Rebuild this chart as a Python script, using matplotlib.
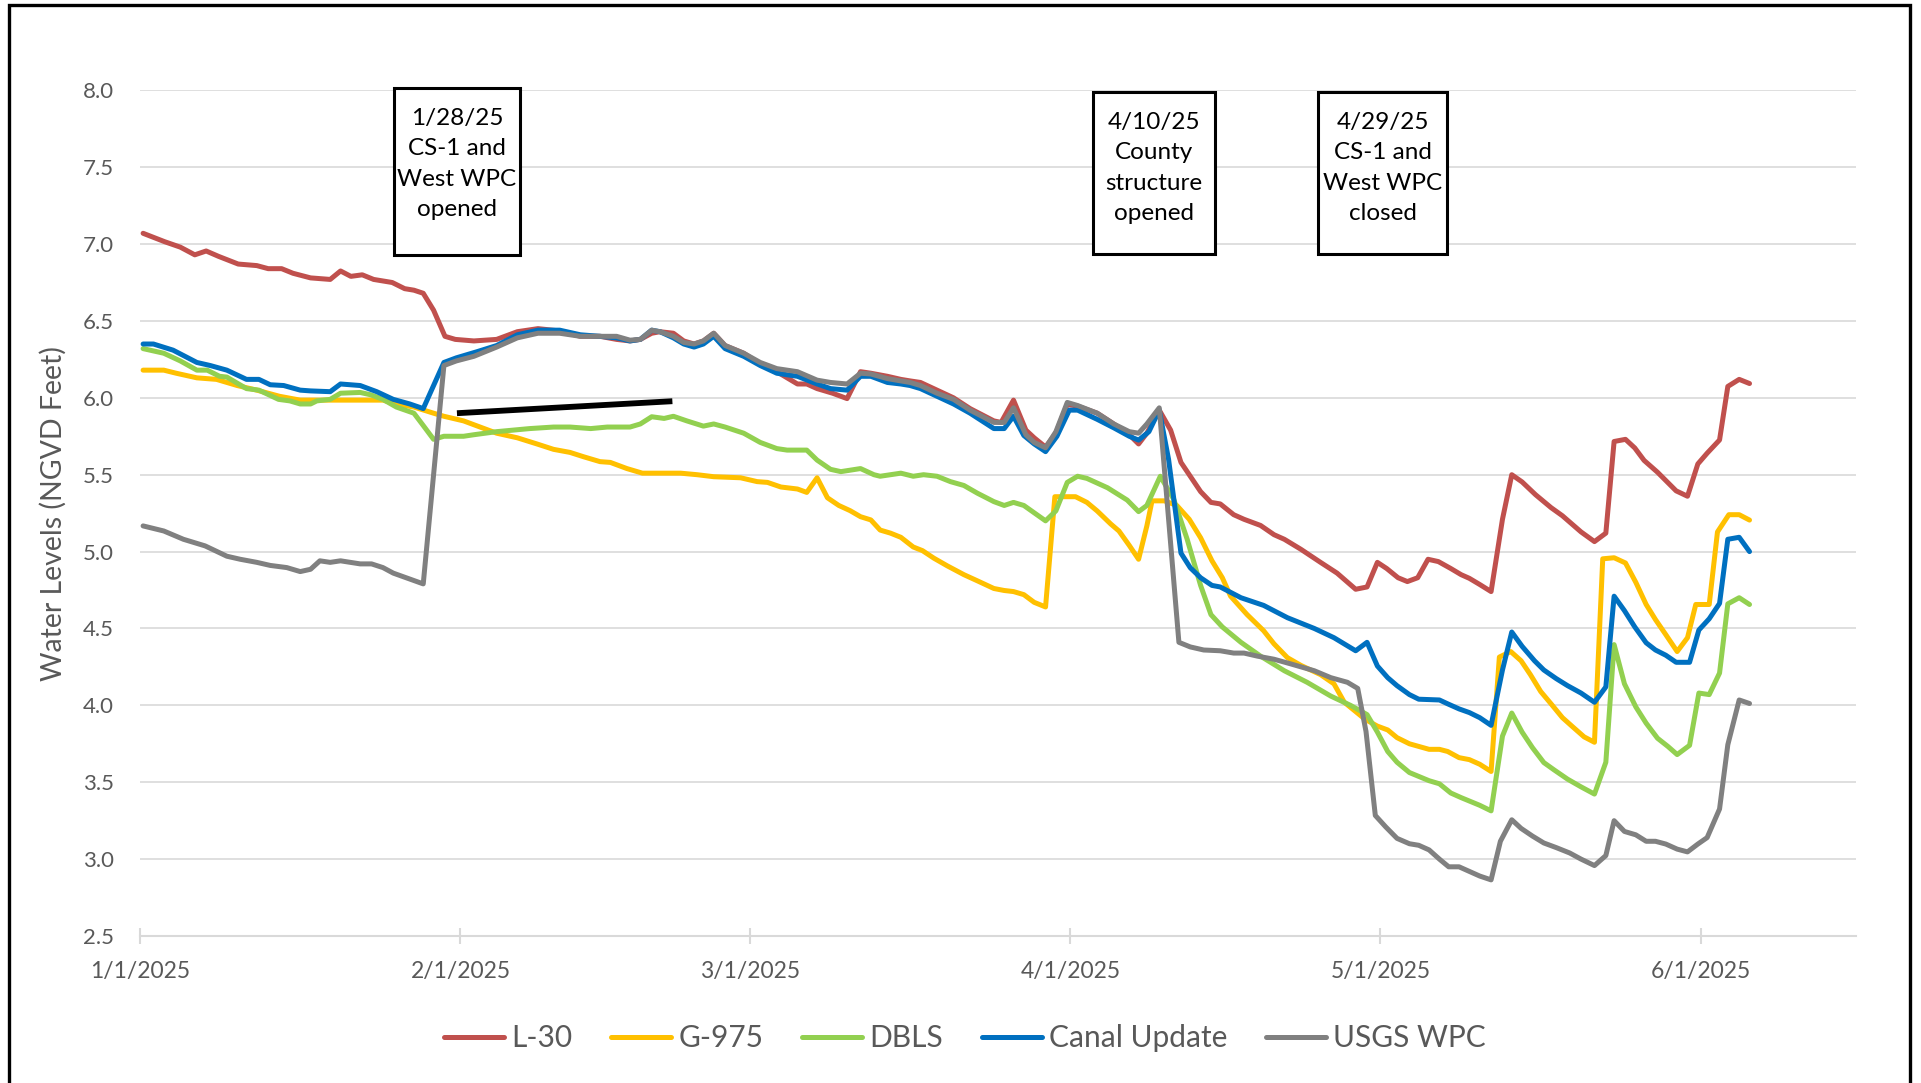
import numpy as np
import matplotlib
matplotlib.use("Agg")
import matplotlib.pyplot as plt
import matplotlib.dates as mdates
from matplotlib.patches import Rectangle
from datetime import datetime

plt.rcParams['font.family'] = ['Lato', 'DejaVu Sans']

# day offsets are counted from 1/1/2025
l30_day = [0.3, 2.4, 3.9, 5.3, 6.4, 7.6, 9.5, 11.3, 12.4, 13.7, 14.8, 16.5, 18.4, 19.4, 20.4, 21.5, 22.6, 24.4, 25.6, 26.5,
           27.4, 28.4, 29.5, 30.5, 32.3, 34.5, 36.5, 38.5, 40.6, 42.6, 44.5, 46.1, 47.4, 48.4, 49.5, 50.3, 51.6, 52.6, 53.6,
           54.5, 55.5, 56.6, 58.4, 60.0, 61.6, 63.6, 64.5, 65.5, 67.0, 68.4, 69.7, 70.7, 72.3, 73.6, 74.5, 75.5, 77.1, 78.7,
           80.3, 82.6, 83.3, 84.5, 85.7, 86.5, 87.6, 88.6, 89.7, 90.7, 92.6, 94.2, 95.7, 96.6, 97.4, 98.6, 99.7, 100.7, 101.6,
           102.6, 103.6, 104.5, 105.8, 106.8, 108.4, 109.7, 110.7, 112.3, 114.2, 115.8, 117.6, 118.7, 119.7, 120.6, 121.7,
           122.6, 123.6, 124.6, 125.6, 126.8, 127.8, 128.6, 129.6, 130.7, 131.8, 132.7, 133.7, 135.0, 136.5, 137.6, 139.4,
           140.7, 141.8, 142.6, 143.7, 144.6, 145.5, 146.8, 148.6, 149.7, 150.7, 151.6, 152.8, 153.6, 154.7, 155.7]
l30 = [7.07, 7.015, 6.98, 6.93, 6.955, 6.92, 6.87, 6.86, 6.84, 6.84, 6.81, 6.78, 6.77, 6.825, 6.79, 6.80, 6.77, 6.75, 6.71, 6.70,
       6.68, 6.57, 6.40, 6.38, 6.37, 6.38, 6.43, 6.45, 6.435, 6.40, 6.40, 6.38, 6.37, 6.38, 6.42, 6.43, 6.42, 6.37, 6.35,
       6.37, 6.42, 6.34, 6.29, 6.22, 6.17, 6.09, 6.09, 6.06, 6.03, 5.995, 6.17, 6.16, 6.14, 6.12, 6.11, 6.10, 6.05, 6.00,
       5.93, 5.85, 5.84, 5.985, 5.79, 5.74, 5.68, 5.77, 5.957, 5.946, 5.90, 5.83, 5.76, 5.70, 5.77, 5.92, 5.79, 5.58, 5.49,
       5.39, 5.32, 5.31, 5.24, 5.21, 5.17, 5.11, 5.08, 5.015, 4.93, 4.86, 4.755, 4.77, 4.93, 4.89, 4.83,
       4.805, 4.83, 4.95, 4.935, 4.89, 4.85, 4.826, 4.786, 4.74, 5.21, 5.50, 5.453, 5.37, 5.286, 5.233, 5.128,
       5.065, 5.12, 5.716, 5.73, 5.674, 5.593, 5.516, 5.395, 5.36, 5.57, 5.64, 5.726, 6.074, 6.12, 6.093]

g975_day = [0.3, 2.3, 3.5, 5.5, 7.4, 9.4, 11.3, 13.5, 15.5, 23.5, 24.8, 26.5, 28.4, 29.4, 31.3, 34.5, 36.5, 38.4, 40.0, 41.6,
            42.9, 44.5, 45.5, 47.1, 48.6, 52.3, 53.9, 55.5, 58.1, 59.7, 60.7, 62.0, 63.6, 64.5, 65.5, 66.5, 67.6, 68.7, 69.7,
            70.7, 71.6, 72.6, 73.6, 74.8, 75.7, 76.8, 78.1, 79.7, 81.0, 82.6, 83.6, 84.5, 85.5, 86.5, 87.6, 88.5, 90.5, 91.6,
            92.6, 93.9, 94.7, 95.7, 96.6, 97.4, 97.9, 99.1, 100.3, 101.5, 102.6, 103.7, 104.7, 105.5, 107.1, 108.7, 109.7,
            111.0, 112.3, 114.2, 115.5, 116.5, 118.5, 119.7, 120.7, 121.6, 122.8, 124.7, 125.7, 126.5, 127.6, 128.6, 129.6,
            130.7, 131.5, 132.6, 133.6, 134.5, 135.5, 136.5, 137.6, 138.6, 139.7, 140.7, 141.5, 142.6, 143.7, 144.7, 145.7,
            146.6, 147.6, 148.7, 149.7, 150.5, 151.8, 152.6, 153.7, 154.7, 155.7]
g975 = [6.18, 6.18, 6.16, 6.13, 6.12, 6.08, 6.05, 6.01, 5.985, 5.985, 5.96, 5.94, 5.90, 5.88, 5.85, 5.77, 5.74, 5.70, 5.665, 5.645,
        5.617, 5.585, 5.58, 5.54, 5.51, 5.51, 5.50, 5.487, 5.48, 5.455, 5.45, 5.42, 5.407, 5.385, 5.48, 5.35, 5.30, 5.266, 5.227,
        5.206, 5.14, 5.12, 5.093, 5.03, 5.006, 4.957, 4.907, 4.85, 4.81, 4.76, 4.747, 4.74, 4.72, 4.67, 4.64, 5.357, 5.357, 5.32,
        5.264, 5.18, 5.134, 5.04, 4.95, 5.167, 5.33, 5.33, 5.30, 5.21, 5.09, 4.94, 4.83, 4.71, 4.59, 4.485, 4.40,
        4.31, 4.26, 4.20, 4.14, 4.02, 3.91, 3.865, 3.84, 3.79, 3.75, 3.714, 3.714, 3.70, 3.66, 3.647, 3.617,
        3.57, 4.314, 4.35, 4.29, 4.20, 4.09, 4.01, 3.92, 3.86, 3.795, 3.76, 4.953, 4.96, 4.926, 4.80, 4.656,
        4.558, 4.46, 4.35, 4.44, 4.656, 4.656, 5.128, 5.24, 5.24, 5.205]

dbls_day = [0.3, 2.3, 3.9, 5.5, 6.5, 7.7, 8.4, 10.3, 11.5, 13.4, 14.5, 15.5, 16.5, 17.1, 18.4, 19.4, 21.3, 22.3, 23.5, 24.8,
            26.5, 27.4, 28.4, 29.4, 31.3, 32.3, 34.5, 37.7, 40.0, 41.6, 43.6, 45.2, 47.4, 48.4, 49.5, 50.7, 51.6, 52.9, 54.5,
            55.5, 56.6, 58.4, 60.0, 61.6, 62.6, 64.5, 65.5, 66.8, 67.8, 69.7, 71.0, 71.6, 73.6, 74.8, 75.8, 77.1, 78.4, 79.7,
            81.0, 82.6, 83.6, 84.5, 85.5, 87.6, 88.6, 89.7, 90.7, 91.6, 93.6, 95.5, 96.6, 97.4, 98.7, 100.0, 101.3, 102.6,
            103.6, 104.7, 106.5, 108.4, 110.7, 112.9, 115.2, 117.1, 118.7, 119.7, 120.7, 121.6, 122.8, 124.7, 125.7, 126.8,
            127.8, 129.6, 130.7, 131.8, 132.7, 133.7, 134.7, 135.8, 136.8, 138.1, 139.4, 140.7, 141.8, 142.6, 143.6, 144.7,
            145.7, 146.8, 147.8, 148.7, 149.9, 150.8, 151.8, 152.8, 153.6, 154.7, 155.7]
dbls = [6.32, 6.29, 6.24, 6.18, 6.18, 6.14, 6.135, 6.06, 6.05, 5.99, 5.98, 5.96, 5.96, 5.98, 5.99, 6.03, 6.035, 6.02, 5.99, 5.94,
        5.90, 5.82, 5.73, 5.75, 5.75, 5.76, 5.78, 5.80, 5.81, 5.81, 5.80, 5.81, 5.81, 5.83, 5.877, 5.866, 5.88, 5.85, 5.816,
        5.83, 5.81, 5.77, 5.71, 5.67, 5.66, 5.66, 5.595, 5.535, 5.52, 5.54, 5.50, 5.49, 5.51, 5.49, 5.50, 5.49, 5.455, 5.43,
        5.38, 5.325, 5.30, 5.32, 5.30, 5.20, 5.265, 5.45, 5.49, 5.476, 5.415, 5.335, 5.26, 5.30, 5.49, 5.34, 5.08, 4.78,
        4.59, 4.51, 4.41, 4.32, 4.225, 4.15, 4.06, 4.00, 3.94, 3.826, 3.70, 3.63, 3.563, 3.51, 3.49, 3.43,
        3.40, 3.35, 3.314, 3.80, 3.95, 3.826, 3.725, 3.628, 3.58, 3.52, 3.47, 3.423, 3.63, 4.395, 4.14, 3.99,
        3.884, 3.786, 3.733, 3.68, 3.74, 4.08, 4.07, 4.21, 4.66, 4.70, 4.656]

canal_day = [0.3, 1.3, 3.2, 5.5, 6.8, 8.4, 10.3, 11.5, 12.6, 13.9, 15.5, 16.5, 18.4, 19.4, 21.3, 22.9, 24.5, 26.1, 27.4, 29.4,
             30.6, 32.6, 34.5, 36.5, 38.5, 40.6, 42.6, 44.5, 46.1, 47.4, 48.4, 49.5, 50.3, 51.6, 52.6, 53.6, 54.5, 55.5, 56.6,
             58.4, 60.0, 61.6, 63.6, 65.5, 66.8, 68.4, 69.7, 70.7, 72.3, 73.6, 74.5, 75.5, 77.1, 78.7, 80.3, 82.6, 83.6, 84.5,
             85.5, 86.5, 87.6, 88.7, 89.9, 90.7, 92.6, 94.2, 95.7, 96.6, 97.6, 98.6, 99.5, 100.7, 101.6, 102.6, 103.7, 104.5,
             106.5, 108.7, 111.0, 113.6, 115.5, 117.6, 118.7, 119.7, 120.7, 121.6, 122.8, 123.7, 125.7, 126.5, 127.6, 128.6,
             129.6, 130.7, 131.8, 132.7, 133.7, 134.9, 135.8, 137.0, 138.1, 139.4, 140.7, 141.8, 142.6, 143.6, 144.6, 145.7,
             146.6, 147.6, 148.6, 149.9, 150.8, 151.8, 152.8, 153.6, 154.7, 155.7]
canal = [6.35, 6.35, 6.31, 6.23, 6.21, 6.18, 6.12, 6.12, 6.085, 6.08, 6.05, 6.045, 6.04, 6.09, 6.08, 6.04, 5.99, 5.96, 5.93, 6.23,
         6.26, 6.30, 6.34, 6.41, 6.44, 6.44, 6.41, 6.40, 6.39, 6.37, 6.38, 6.44, 6.43, 6.39, 6.35, 6.33, 6.35, 6.40, 6.32,
         6.27, 6.21, 6.16, 6.14, 6.09, 6.06, 6.05, 6.14, 6.14, 6.10, 6.09, 6.08, 6.06, 6.01, 5.96, 5.90, 5.80, 5.80, 5.88,
         5.755, 5.70, 5.65, 5.75, 5.92, 5.92, 5.86, 5.805, 5.75, 5.725, 5.78, 5.92, 5.60, 4.99, 4.895, 4.83, 4.78, 4.77,
         4.70, 4.65, 4.57, 4.50, 4.44, 4.355, 4.41, 4.256, 4.18, 4.128, 4.07, 4.04, 4.035, 4.01, 3.977, 3.953,
         3.92, 3.87, 4.23, 4.477, 4.384, 4.29, 4.23, 4.174, 4.128, 4.08, 4.02, 4.12, 4.71, 4.616, 4.51, 4.407,
         4.36, 4.326, 4.28, 4.28, 4.49, 4.563, 4.663, 5.08, 5.093, 5.0]

usgs_day = [0.3, 2.3, 4.2, 6.3, 8.4, 9.7, 11.3, 12.6, 14.2, 15.5, 16.5, 17.4, 18.4, 19.4, 21.3, 22.4, 23.5, 24.5, 27.4, 29.4,
            30.6, 32.3, 34.5, 36.5, 38.5, 40.6, 42.6, 44.5, 46.1, 47.4, 48.4, 49.5, 50.3, 51.6, 52.6, 53.6, 54.5, 55.5, 56.6,
            58.4, 60.0, 61.6, 63.6, 65.5, 66.8, 68.4, 69.7, 70.7, 72.3, 73.6, 74.5, 75.5, 77.1, 78.7, 80.3, 82.6, 83.6, 84.5,
            85.7, 86.5, 87.6, 88.6, 89.7, 90.7, 92.6, 94.2, 95.7, 96.6, 97.4, 98.6, 100.5, 101.6, 102.9, 104.5, 105.8, 106.8,
            108.1, 109.7, 111.3, 113.6, 115.2, 116.8, 117.8, 118.6, 119.5, 120.5, 121.6, 122.8, 123.7, 124.7, 125.7, 126.6,
            127.6, 128.6, 129.6, 130.7, 131.6, 132.7, 133.6, 134.7, 135.8, 137.0, 138.3, 139.4, 140.7, 141.8, 142.6, 143.6,
            144.7, 145.7, 146.6, 147.6, 148.7, 149.7, 150.7, 151.6, 152.8, 153.6, 154.7, 155.7]
usgs = [5.167, 5.134, 5.08, 5.037, 4.97, 4.95, 4.93, 4.91, 4.896, 4.87, 4.885, 4.94, 4.93, 4.94, 4.92, 4.92, 4.896, 4.86, 4.79, 6.21,
        6.24, 6.27, 6.33, 6.39, 6.42, 6.42, 6.40, 6.40, 6.40, 6.375, 6.38, 6.44, 6.43, 6.40, 6.36, 6.35, 6.37, 6.42, 6.34,
        6.29, 6.23, 6.19, 6.17, 6.115, 6.10, 6.09, 6.16, 6.155, 6.125, 6.11, 6.10, 6.08, 6.03, 5.99, 5.92, 5.84, 5.84, 5.935,
        5.76, 5.71, 5.675, 5.78, 5.97, 5.95, 5.90, 5.83, 5.78, 5.77, 5.83, 5.935, 4.41, 4.38, 4.36, 4.355, 4.34, 4.34,
        4.32, 4.30, 4.27, 4.225, 4.18, 4.15, 4.11, 3.83, 3.284, 3.21, 3.135, 3.10, 3.09, 3.06, 3.0, 2.95,
        2.95, 2.92, 2.89, 2.865, 3.116, 3.256, 3.20, 3.15, 3.105, 3.075, 3.04, 3.0, 2.958, 3.023, 3.25, 3.18,
        3.158, 3.116, 3.116, 3.098, 3.065, 3.047, 3.098, 3.14, 3.326, 3.744, 4.035, 4.012]

# the black trend stroke drawn on the chart (day, value)
mark_day = [30.66, 51.5]
mark_val = [5.90, 5.978]

names = ["L-30", "G-975", "DBLS", "Canal Update", "USGS WPC"]
colors = ["#C0504D", "#FFC000", "#92D050", "#0070C0", "#808080"]
notes = ["1/28/25\nCS-1 and\nWest WPC\nopened",
         "4/10/25\nCounty\nstructure\nopened",
         "4/29/25\nCS-1 and\nWest WPC\nclosed"]

W, H = 1921, 1083
fig = plt.figure(figsize=(W / 100, H / 100), dpi=100)
ax = fig.add_axes([140 / W, 1 - 936 / H, (1856 - 140) / W, (936 - 90.3) / H])

jan1 = mdates.date2num(datetime(2025, 1, 1))
series = [(l30_day, l30), (g975_day, g975), (dbls_day, dbls), (canal_day, canal), (usgs_day, usgs)]
for (d, v), name, c in zip(series, names, colors):
    ax.plot(jan1 + np.array(d), v, color=c, lw=3.6, label=name, solid_joinstyle='round', solid_capstyle='round')

ax.plot(jan1 + np.array(mark_day), mark_val, color='black', lw=4.2, solid_capstyle='butt')

ax.set_ylim(2.5, 8.0)
ax.set_yticks(np.arange(2.5, 8.01, 0.5))
ax.yaxis.set_major_formatter(plt.FuncFormatter(lambda v, p: "%.1f" % v))
ax.set_xlim(jan1, jan1 + 166)
ax.xaxis.set_major_locator(mdates.MonthLocator())
ax.xaxis.set_major_formatter(plt.FuncFormatter(
    lambda x, p: "%d/%d/%d" % (mdates.num2date(x).month, mdates.num2date(x).day, mdates.num2date(x).year)))

ax.grid(axis='y', color='#D9D9D9', lw=1.2)
ax.set_axisbelow(True)
for s in ['top', 'right', 'left']:
    ax.spines[s].set_visible(False)
ax.spines['bottom'].set_color('#D9D9D9')
ax.spines['bottom'].set_linewidth(1.5)
ax.tick_params(axis='y', length=0, pad=19, labelsize=16, labelcolor='#595959')
ax.tick_params(axis='x', direction='inout', length=12, width=1.5, color='#D9D9D9', pad=12,
               labelsize=16.5, labelcolor='#595959')

ax.set_ylabel("Water Levels (NGVD Feet)", fontsize=20.5, color='#595959')
ax.yaxis.set_label_coords((67 - 140) / (1856 - 140), 0.5)

# event text boxes, placed in figure pixels
boxes = [(394, 88, 520, 255), (1093, 92, 1215, 254), (1318, 92, 1447, 254)]
for (x0, y0, x1, y1), txt in zip(boxes, notes):
    fig.patches.append(Rectangle((x0 / W, 1 - y1 / H), (x1 - x0) / W, (y1 - y0) / H,
                                 transform=fig.transFigure, fill=True, facecolor='white',
                                 edgecolor='black', lw=2.2, zorder=5))
    fig.text((x0 + x1) / 2 / W, 1 - (y0 + 76) / H, txt, ha='center', va='center',
             fontsize=17.5, linespacing=1.55, zorder=6)

fig.legend(loc='center', bbox_to_anchor=(965 / W, 1 - 1038 / H), ncol=5, frameon=False,
           fontsize=21.5, handlelength=2.0, handletextpad=0.25, columnspacing=1.3,
           labelcolor='#595959')

# outer border of the chart area
fig.patches.append(Rectangle((9 / W, -0.02), (1910 - 9) / W, 1.02 - 5 / H, transform=fig.transFigure,
                             fill=False, edgecolor='black', lw=2.4))

plt.savefig("out.png", dpi=100)
